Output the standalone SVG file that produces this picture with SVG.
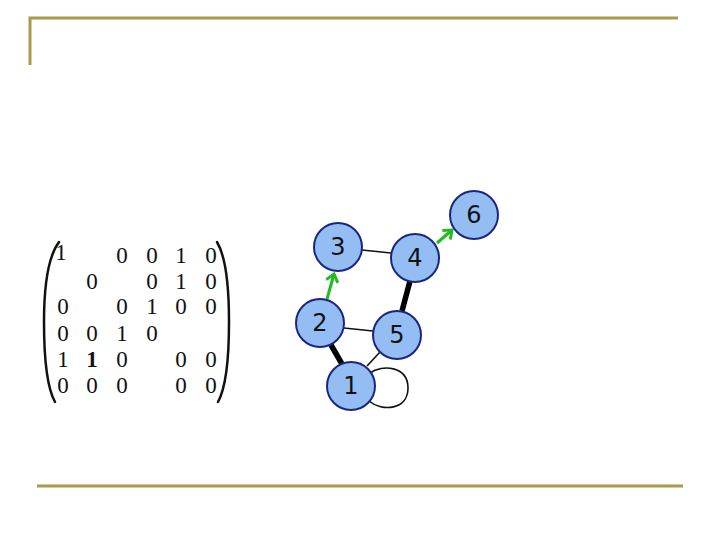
<svg xmlns="http://www.w3.org/2000/svg" width="720" height="540" viewBox="0 0 720 540">
<style>
.rule{stroke:#a89a4e;stroke-width:3;fill:none}
.m{font-family:"Liberation Serif",serif;font-size:23px;fill:#111;text-anchor:middle}
.paren{fill:none;stroke:#111;stroke-width:2.5;stroke-linecap:round}
.node circle{fill:#93bdf3;stroke:#1b2580;stroke-width:2}
.node text{font-family:"DejaVu Sans",sans-serif;font-size:24px;fill:#111;text-anchor:middle}
.thin{stroke:#111;stroke-width:1.6}
.thick{stroke:#000;stroke-width:5.5}
.arr{stroke:#22bb22;stroke-width:3;fill:none}
</style>
<defs>
<marker id="ga" markerWidth="14" markerHeight="14" refX="9" refY="7" orient="auto" markerUnits="userSpaceOnUse">
<path d="M1.5,1 L9,7 L1.5,13" fill="none" stroke="#22bb22" stroke-width="3"/>
</marker>
</defs>
<rect width="720" height="540" fill="#fff"/>
<g id="frame">
<path class="rule" d="M30,65 L30,18 L678,18"/>
<path class="rule" d="M37,486 L683,486"/>
</g>
<g id="matrix">
<path class="paren" d="M59,242 Q44,262 44,322 Q44,382 55,402"/>
<path class="paren" d="M217,242 Q229,262 229,322 Q229,382 218,402"/>
<text class="m" x="61" y="260" font-size="20">1</text>
<text class="m" x="122" y="263">0</text><text class="m" x="152" y="263">0</text><text class="m" x="181" y="263">1</text><text class="m" x="211" y="263">0</text>
<text class="m" x="92" y="289">0</text><text class="m" x="152" y="289">0</text><text class="m" x="181" y="289">1</text><text class="m" x="211" y="289">0</text>
<text class="m" x="63" y="314">0</text><text class="m" x="122" y="314">0</text><text class="m" x="152" y="314">1</text><text class="m" x="181" y="314">0</text><text class="m" x="211" y="314">0</text>
<text class="m" x="63" y="341">0</text><text class="m" x="92" y="341">0</text><text class="m" x="122" y="341">1</text><text class="m" x="152" y="341">0</text>
<text class="m" x="63" y="367">1</text><text class="m" x="92" y="367" font-weight="bold">1</text><text class="m" x="122" y="367">0</text><text class="m" x="181" y="367">0</text><text class="m" x="211" y="367">0</text>
<text class="m" x="63" y="393">0</text><text class="m" x="92" y="393">0</text><text class="m" x="122" y="393">0</text><text class="m" x="181" y="393">0</text><text class="m" x="211" y="393">0</text>
</g>
<g id="connectors">
<line class="thin" x1="362" y1="250" x2="391" y2="253"/>
<line class="thick" x1="410" y1="281" x2="402" y2="311"/>
<line class="thin" x1="344" y1="328" x2="373" y2="331"/>
<line class="thick" x1="331" y1="345" x2="342" y2="364"/>
<line class="thin" x1="380" y1="352" x2="367" y2="366"/>
<path class="thin" fill="none" d="M370,373 C382,364 408,366 408,388 C408,410 382,412 369,401"/>
<line class="arr" x1="327" y1="299" x2="334" y2="274" marker-end="url(#ga)"/>
<line class="arr" x1="437" y1="243" x2="452" y2="230" marker-end="url(#ga)"/>
</g>
<g id="n3" class="node"><circle cx="338" cy="247" r="24"/><text x="338" y="255">3</text></g>
<g id="n4" class="node"><circle cx="415" cy="258" r="24"/><text x="415" y="266">4</text></g>
<g id="n6" class="node"><circle cx="474" cy="215" r="24"/><text x="474" y="223">6</text></g>
<g id="n2" class="node"><circle cx="320" cy="323" r="24"/><text x="320" y="331">2</text></g>
<g id="n5" class="node"><circle cx="397" cy="335" r="24"/><text x="397" y="343">5</text></g>
<g id="n1" class="node"><circle cx="351" cy="386" r="24"/><text x="351" y="394">1</text></g>
</svg>
